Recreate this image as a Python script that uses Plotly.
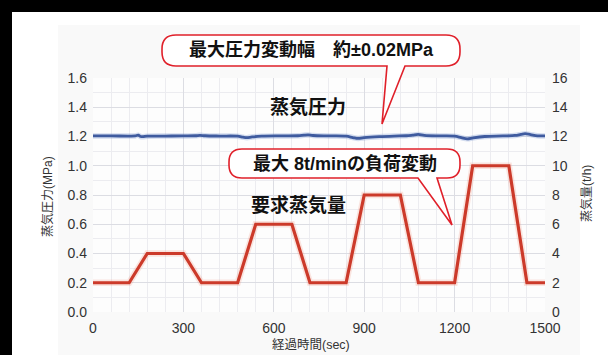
import plotly.graph_objects as go

# ---------------- data ----------------
time_req = [0, 120, 180, 300, 360, 480, 540, 660, 720, 840, 900, 1020, 1080, 1200, 1260, 1380, 1440, 1500]
steam_req = [2, 2, 4, 4, 2, 2, 6, 6, 2, 2, 8, 8, 2, 2, 10, 10, 2, 2]

time_p = [0, 60, 120, 140, 150, 158, 166, 180, 240, 300, 340, 355, 372, 420, 480, 498, 511, 528, 560, 620, 680, 700, 714, 730, 780,
          840, 862, 880, 900, 950, 1000, 1040, 1060, 1079, 1100, 1150, 1200, 1222, 1242, 1262, 1300, 1360, 1400, 1420, 1434, 1452, 1475, 1500]
pressure = [1.204, 1.204, 1.203, 1.204, 1.209, 1.200, 1.199, 1.202, 1.203, 1.204, 1.205, 1.208, 1.205, 1.203, 1.202, 1.195, 1.192, 1.197,
            1.202, 1.204, 1.205, 1.209, 1.211, 1.207, 1.204, 1.202, 1.193, 1.187, 1.192, 1.199, 1.203, 1.205, 1.209, 1.214, 1.208,
            1.204, 1.202, 1.192, 1.184, 1.191, 1.200, 1.204, 1.207, 1.214, 1.219, 1.213, 1.205, 1.204]

x_ticks = [0, 300, 600, 900, 1200, 1500]
y_left_ticks = [0.0, 0.2, 0.4, 0.6, 0.8, 1.0, 1.2, 1.4, 1.6]
y_right_ticks = [0, 2, 4, 6, 8, 10, 12, 14, 16]

# ---------------- geometry helpers (pixels -> paper) ----------------
W, H = 608, 355
L, R, T, B = 93, 545, 78, 312


def px(x):
    return (x - L) / (R - L)


def py(y):
    return (B - y) / (B - T)


def callout_path(l, r, t, b, rad, tail_right, tip, tail_left):
    pts = []
    pts.append(f"M{px(l + rad)},{py(t)}")
    pts.append(f"L{px(r - rad)},{py(t)}")
    pts.append(f"Q{px(r)},{py(t)} {px(r)},{py(t + rad)}")
    pts.append(f"L{px(r)},{py(b - rad)}")
    pts.append(f"Q{px(r)},{py(b)} {px(r - rad)},{py(b)}")
    pts.append(f"L{px(tail_right)},{py(b)}")
    pts.append(f"L{px(tip[0])},{py(tip[1])}")
    pts.append(f"L{px(tail_left)},{py(b)}")
    pts.append(f"L{px(l + rad)},{py(b)}")
    pts.append(f"Q{px(l)},{py(b)} {px(l)},{py(b - rad)}")
    pts.append(f"L{px(l)},{py(t + rad)}")
    pts.append(f"Q{px(l)},{py(t)} {px(l + rad)},{py(t)}")
    pts.append("Z")
    return " ".join(pts)


fig = go.Figure()

# glow + lines
fig.add_trace(go.Scatter(x=time_req, y=steam_req, yaxis="y2", mode="lines",
                         line=dict(color="rgba(240,140,120,0.22)", width=6.5), hoverinfo="skip", showlegend=False))
fig.add_trace(go.Scatter(x=time_req, y=steam_req, yaxis="y2", mode="lines",
                         line=dict(color="#cc3a2a", width=3.2), showlegend=False))
fig.add_trace(go.Scatter(x=time_p, y=pressure, mode="lines",
                         line=dict(color="rgba(120,150,210,0.30)", width=5.5, shape="spline"), hoverinfo="skip", showlegend=False))
fig.add_trace(go.Scatter(x=time_p, y=pressure, mode="lines",
                         line=dict(color="#3f5b9f", width=2.8, shape="spline"), showlegend=False))

tick_font = dict(family="Liberation Sans, Arial, sans-serif", size=14, color="#333333")
grid_c = "#dcdde3"
minor_c = "#ececf0"

fig.update_layout(
    width=W, height=H,
    margin=dict(l=L, r=W - R, t=T, b=H - B),
    paper_bgcolor="black",
    plot_bgcolor="rgba(0,0,0,0)",
    showlegend=False,
    xaxis=dict(range=[0, 1500], tickvals=x_ticks, ticktext=[str(v) for v in x_ticks],
               showgrid=True, gridcolor=grid_c, gridwidth=1, zeroline=False, showline=False,
               ticks="", ticklabelstandoff=6, tickfont=tick_font,
               minor=dict(dtick=60, tick0=0, showgrid=True, gridcolor=minor_c, gridwidth=1)),
    yaxis=dict(range=[0, 1.6], tickvals=y_left_ticks, ticktext=[f"{v:.1f}" for v in y_left_ticks],
               showgrid=True, gridcolor=grid_c, zeroline=False, showline=False,
               ticks="", ticklabelstandoff=5, tickfont=tick_font,
               minor=dict(dtick=0.1, tick0=0, showgrid=True, gridcolor=minor_c, gridwidth=1)),
    yaxis2=dict(range=[0, 16], tickvals=y_right_ticks, ticktext=[str(v) for v in y_right_ticks],
                overlaying="y", side="right", showgrid=False, zeroline=False, showline=False,
                ticks="", ticklabelstandoff=6, tickfont=tick_font),
)

shapes = [
    dict(type="rect", xref="paper", yref="paper", x0=px(12), x1=px(608), y0=py(355), y1=py(12),
         fillcolor="white", line=dict(width=0), layer="below"),
    dict(type="rect", xref="paper", yref="paper", x0=px(58), x1=px(580), y0=py(355), y1=py(25),
         fillcolor="#f9f9f9", line=dict(width=0), layer="below"),
    dict(type="rect", xref="paper", yref="paper", x0=px(L), x1=px(R), y0=py(B), y1=py(T),
         fillcolor="#fdfdfd", line=dict(width=0), layer="below"),
    dict(type="path", xref="paper", yref="paper",
         path=callout_path(162, 460, 35, 66, 14, 405, (382, 124), 387),
         fillcolor="white", line=dict(color="#e0202a", width=1.6), layer="above"),
    dict(type="path", xref="paper", yref="paper",
         path=callout_path(229, 460, 149, 178, 13, 437, (452, 225), 418),
         fillcolor="white", line=dict(color="#e0202a", width=1.6), layer="above"),
]
fig.update_layout(shapes=shapes)

jp = "Liberation Sans, Noto Sans CJK JP, sans-serif"
jp_only = "Noto Sans CJK JP"
ann = [
    dict(text="<b>最大圧力変動幅　約±0.02MPa</b>", x=px(311), y=py(50.5), font=dict(family=jp, size=18, color="#111111")),
    dict(text="<b>最大 8t/minの負荷変動</b>", x=px(345), y=py(164), font=dict(family=jp, size=18, color="#111111")),
    dict(text="<b>蒸気圧力</b>", x=px(308), y=py(105), font=dict(family=jp_only, size=19, color="#111111")),
    dict(text="<b>要求蒸気量</b>", x=px(298), y=py(203), font=dict(family=jp_only, size=19, color="#111111")),
    dict(text="蒸気圧力(MPa)", x=px(47), y=py(197), textangle=-90, font=dict(family=jp, size=12, color="#333333")),
    dict(text="蒸気量(t/h)", x=px(586), y=py(194), textangle=-90, font=dict(family=jp, size=12, color="#333333")),
    dict(text="経過時間(sec)", x=px(311), y=py(345), font=dict(family=jp, size=12.5, color="#333333")),
]
for a in ann:
    a.update(xref="paper", yref="paper", showarrow=False, xanchor="center", yanchor="middle")
fig.update_layout(annotations=ann)

fig.write_html("out.html")
